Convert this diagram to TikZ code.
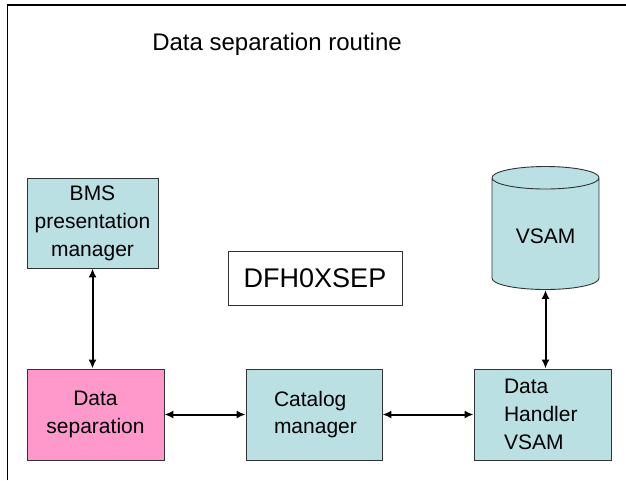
\documentclass[tikz,border=0pt]{standalone}
\usepackage{fontspec}
\setmainfont{Liberation Sans}
\usepackage{tikz}
\usetikzlibrary{shapes.geometric,arrows.meta}

\definecolor{boxcyan}{HTML}{BBE0E3}
\definecolor{boxpink}{HTML}{FF99CC}

\begin{document}
\begin{tikzpicture}[x=1pt,y=-1pt,
	block/.style={draw=black!80, line width=0.9pt, fill=boxcyan, minimum width=137pt, minimum height=91pt, inner sep=0pt, align=center, font=\fontsize{21}{28}\selectfont},
	link/.style={{Latex[length=9pt,width=8pt]}-{Latex[length=9pt,width=8pt]}, line width=2pt}]
	\useasboundingbox (0,0) rectangle (626,480);
	\draw[line width=1.2pt] (7.5,480) -- (7.5,5) -- (626,5);
	
	\node[font=\fontsize{24}{30}\selectfont] (title) at (277,44) {Data separation routine};
	
	\node[block, minimum width=131pt, minimum height=90pt] (bms) at (92.5,223) {BMS\\presentation\\manager};
	\node[block, fill=boxpink] (sep) at (95.5,414.5) {Data\\separation};
	\node[block, minimum width=136pt] (cat) at (314,414.5) {\raisebox{6pt}{\parbox{80pt}{\fontsize{21}{27}\selectfont Catalog\\manager}}};
	\node[block, text width=77pt, align=left] (dh) at (542.5,414.5) {Data\\Handler\\VSAM};
	\node[draw=black!80, line width=0.9pt, fill=white, minimum width=174pt, minimum height=54pt, font=\fontsize{27}{30}\selectfont] (xsep) at (315,278) {DFH0XSEP};
	\node[cylinder, shape border rotate=90, aspect=0.34, anchor=shape center, draw=black!80, line width=0.9pt, fill=boxcyan, minimum width=107pt, minimum height=123pt, font=\fontsize{21}{27}\selectfont] (vsam) at (545.5,228) {\raisebox{-7pt}{VSAM}};
	
	\draw[link] (bms.south) -- (bms.south |- sep.north);
	\draw[link] (sep.east) -- (cat.west);
	\draw[link] (cat.east) -- (dh.west);
	\draw[link] (vsam.bottom) -- (vsam.bottom |- dh.north);
\end{tikzpicture}
\end{document}
